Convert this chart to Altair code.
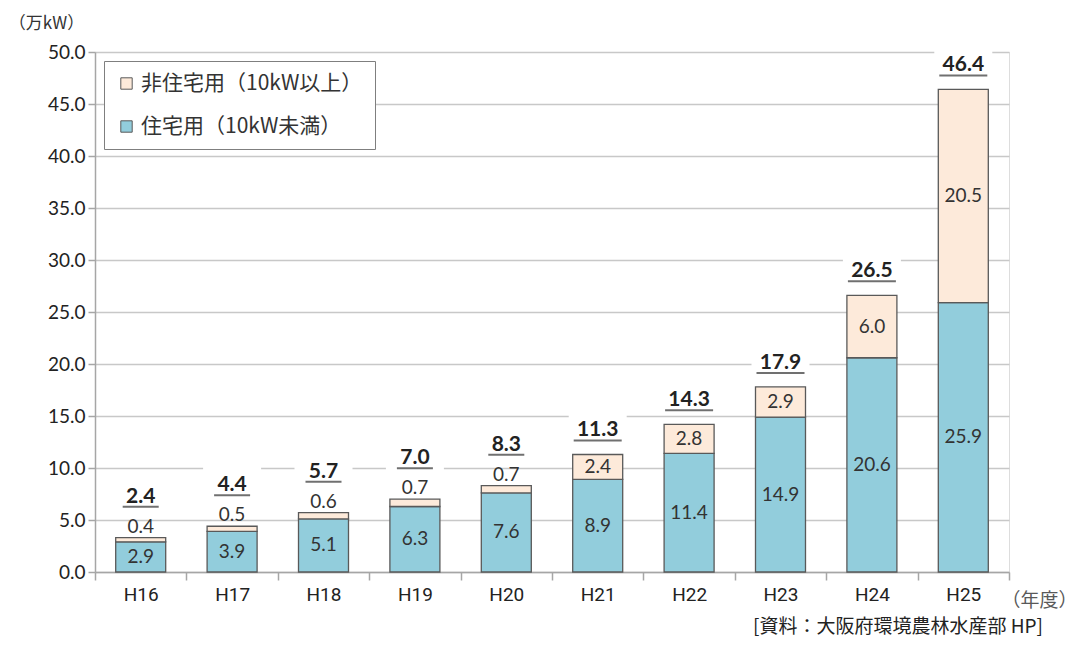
import altair as alt
import pandas as pd

years = ["H16", "H17", "H18", "H19", "H20", "H21", "H22", "H23", "H24", "H25"]
residential = [2.9, 3.9, 5.1, 6.3, 7.6, 8.9, 11.4, 14.9, 20.6, 25.9]
non_residential = [0.4, 0.5, 0.6, 0.7, 0.7, 2.4, 2.8, 2.9, 6.0, 20.5]
total_labels = ["2.4", "4.4", "5.7", "7.0", "8.3", "11.3", "14.3", "17.9", "26.5", "46.4"]
y_ticks = [0, 5, 10, 15, 20, 25, 30, 35, 40, 45, 50]

RES = "住宅用（10kW未満）"
NONRES = "非住宅用（10kW以上）"

rows = []
for yr, r, n in zip(years, residential, non_residential):
    rows.append({"year": yr, "series": RES, "value": r, "ord": 0})
    rows.append({"year": yr, "series": NONRES, "value": n, "ord": 1})
long_df = pd.DataFrame(rows)

wide = pd.DataFrame({"year": years, "res": residential, "nonres": non_residential,
                     "total": total_labels})
wide["top"] = wide["res"] + wide["nonres"]
wide["res_mid"] = wide["res"] / 2
wide["nonres_mid"] = wide["res"] + wide["nonres"] / 2
wide["outside"] = wide["nonres"] < 1

NUM_FONT = "Lato"
CJK_FONT = "Noto Sans CJK JP"

x_axis = alt.Axis(title="（年度）", titleX=982, titleY=28, titleAngle=0,
                  titleAlign="right", titleBaseline="middle",
                  titleFont=CJK_FONT, titleFontSize=19, titleFontWeight="normal",
                  titleColor="#595959",
                  labelAngle=0, labelFont="Roboto", labelFontSize=19,
                  labelColor="#222222", labelPadding=5,
                  tickBand="extent", tickSize=8, tickColor="#A6A6A6", tickWidth=1.5,
                  domainColor="#A6A6A6", domainWidth=1.5, grid=False)
x_enc = alt.X("year:N", sort=years, scale=alt.Scale(paddingInner=0, paddingOuter=0),
              axis=x_axis)

y_axis = alt.Axis(title="（万kW）", titleAngle=0, titleX=-49, titleY=-29,
                  titleAlign="center", titleBaseline="middle",
                  titleFont=CJK_FONT, titleFontSize=17, titleFontWeight="normal",
                  titleColor="#333333",
                  values=y_ticks, format=".1f", labelFont=NUM_FONT, labelFontSize=19,
                  labelColor="#222222", labelPadding=3,
                  tickSize=7, tickColor="#A6A6A6", tickWidth=1.5,
                  domainColor="#A6A6A6", domainWidth=1.5,
                  grid=True, gridColor="#C8C8C8", gridWidth=1.5)
y_scale = alt.Scale(domain=[0, 50], nice=False)


def y_enc(field, **kw):
    return alt.Y(field, type="quantitative", scale=y_scale, axis=y_axis, **kw)


bars = alt.Chart(long_df).mark_bar(size=50, stroke="#595959", strokeWidth=1.3).encode(
    x=x_enc,
    y=y_enc("value", stack="zero"),
    order=alt.Order("ord:Q", sort="ascending"),
    color=alt.Color("series:N", scale=alt.Scale(domain=[NONRES, RES],
                                                range=["#FDEADA", "#92CDDC"]),
                    legend=alt.Legend(title=None, orient="top-left", offset=9,
                                      symbolType="square", symbolSize=130,
                                      symbolStrokeColor="#595959", symbolStrokeWidth=1,
                                      labelFont=CJK_FONT, labelFontSize=21,
                                      labelColor="#333333", labelLimit=400,
                                      rowPadding=21, padding=12,
                                      strokeColor="#7F7F7F", fillColor="white")),
)

base = alt.Chart(wide)
out_rows = base.transform_filter("datum.outside")
in_rows = base.transform_filter("!datum.outside")

mask_out = out_rows.mark_bar(size=58, color="white", yOffset=-64, y2Offset=-28).encode(
    x=x_enc, y=y_enc("top"), y2="top:Q")
mask_in = in_rows.mark_bar(size=58, color="white", yOffset=-45, y2Offset=-10).encode(
    x=x_enc, y=y_enc("top"), y2="top:Q")

res_text = base.mark_text(font=NUM_FONT, fontSize=19, color="#333333",
                          baseline="middle").encode(
    x=x_enc, y=y_enc("res_mid"), text=alt.Text("res:Q", format=".1f"))

nonres_in_text = in_rows.mark_text(font=NUM_FONT, fontSize=19, color="#333333",
                                   baseline="middle").encode(
    x=x_enc, y=y_enc("nonres_mid"), text=alt.Text("nonres:Q", format=".1f"))

nonres_out_text = out_rows.mark_text(font=NUM_FONT, fontSize=19, color="#333333",
                                     baseline="bottom", dy=-1).encode(
    x=x_enc, y=y_enc("top"), text=alt.Text("nonres:Q", format=".1f"))

total_out = out_rows.mark_text(font=NUM_FONT, fontSize=21, fontWeight="bold",
                               color="#222222", baseline="alphabetic", dy=-35).encode(
    x=x_enc, y=y_enc("top"), text="total:N")
total_in = in_rows.mark_text(font=NUM_FONT, fontSize=21, fontWeight="bold",
                             color="#222222", baseline="alphabetic", dy=-18).encode(
    x=x_enc, y=y_enc("top"), text="total:N")

ul_out = out_rows.transform_calculate(uw="length(datum.total) * 12").mark_tick(
    thickness=2, color="#333333", orient="horizontal", yOffset=-31).encode(
    x=x_enc, y=y_enc("top"), size=alt.Size("uw:Q", scale=None, legend=None))
ul_in = in_rows.transform_calculate(uw="length(datum.total) * 12").mark_tick(
    thickness=2, color="#333333", orient="horizontal", yOffset=-14).encode(
    x=x_enc, y=y_enc("top"), size=alt.Size("uw:Q", scale=None, legend=None))

chart = alt.layer(
    mask_out, mask_in, bars, res_text, nonres_in_text, nonres_out_text,
    total_out, total_in, ul_out, ul_in
).properties(
    width=914, height=520,
    padding={"left": 87, "top": 44, "right": 69, "bottom": 74},
    autosize=alt.AutoSizeParams(type="none"),
    title=alt.TitleParams("[資料：大阪府環境農林水産部 HP]", orient="bottom", anchor="end",
                          frame="group", dx=34, offset=8, font=CJK_FONT, fontSize=19,
                          fontWeight="normal", color="#222222"),
).configure_view(stroke="#A6A6A6", strokeWidth=1.5).configure(background="white")

chart.save("out.html", embed_options={"renderer": "svg", "actions": False})
